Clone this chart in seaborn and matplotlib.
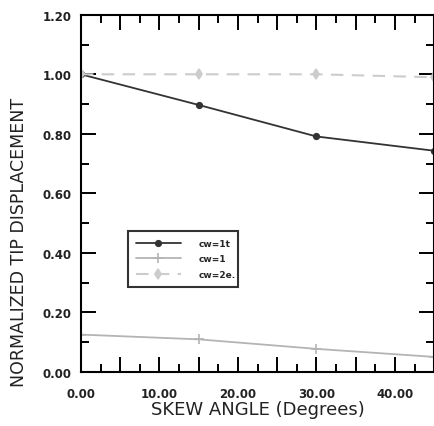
import matplotlib
matplotlib.use("Agg")
import matplotlib.pyplot as plt
import seaborn as sns
import pandas as pd
from matplotlib.ticker import MultipleLocator, FixedLocator, FixedFormatter

sns.set_theme(style="white")
plt.rcParams['font.family'] = ['DejaVu Sans']

skew_angle = [0, 15, 30, 45]
series_names = ["cw=1t", "cw=1", "cw=2e."]
disp_a = [1.00, 0.897, 0.791, 0.743]
disp_b = [0.125, 0.109, 0.077, 0.050]
disp_c = [1.00, 1.00, 1.00, 0.99]

xtick_vals = [0, 5, 10, 15, 20, 25, 30, 35, 40, 45]
xtick_labels = ["0.00", "", "10.00", "", "20.00", "", "30.00", "", "40.00", ""]
ytick_vals = [0.0, 0.2, 0.4, 0.6, 0.8, 1.0, 1.2]
ytick_labels = ["0.00", "0.20", "0.40", "0.60", "0.80", "1.00", "1.20"]

df = pd.concat([
    pd.DataFrame({"x": skew_angle, "y": disp_a, "s": series_names[0]}),
    pd.DataFrame({"x": skew_angle, "y": disp_b, "s": series_names[1]}),
    pd.DataFrame({"x": skew_angle, "y": disp_c, "s": series_names[2]}),
])

fig = plt.figure(figsize=(4.35, 4.27), dpi=100)
ax = fig.add_axes([0.186, 0.127, 0.812, 0.836])

styles = {
    series_names[0]: dict(color="#333333", marker="o", linestyle="-", markersize=4, linewidth=1.3),
    series_names[1]: dict(color="#b4b4b4", marker="+", linestyle="-", markersize=7, linewidth=1.3),
    series_names[2]: dict(color="#cccccc", marker="d", linestyle=(0, (6, 4)), markersize=5, linewidth=1.5),
}
for name in series_names:
    sub = df[df["s"] == name]
    st = styles[name]
    sns.lineplot(data=sub, x="x", y="y", ax=ax, label=name, color=st["color"],
                 marker=st["marker"], linestyle=st["linestyle"], markersize=st["markersize"],
                 linewidth=st["linewidth"], markeredgecolor=st["color"], markerfacecolor=st["color"],
                 markeredgewidth=1.2)

ax.set_xlim(0, 45)
ax.set_ylim(0, 1.2)
ax.xaxis.set_major_locator(FixedLocator(xtick_vals))
ax.xaxis.set_major_formatter(FixedFormatter(xtick_labels))
ax.xaxis.set_minor_locator(MultipleLocator(2.5))
ax.yaxis.set_major_locator(FixedLocator(ytick_vals))
ax.yaxis.set_major_formatter(FixedFormatter(ytick_labels))
ax.yaxis.set_minor_locator(MultipleLocator(0.1))

ax.tick_params(which="both", direction="in", top=True, right=True, bottom=True, left=True,
               colors="black", labelsize=8.5, width=1.4)
ax.tick_params(which="major", length=11)
ax.tick_params(axis="x", which="major", pad=11)
ax.tick_params(axis="y", which="major", pad=7)
ax.tick_params(which="minor", length=5.5)
for lab in ax.get_xticklabels() + ax.get_yticklabels():
    lab.set_fontweight("bold")
    lab.set_color("#222222")

for sp in ax.spines.values():
    sp.set_visible(True)
    sp.set_color("black")
    sp.set_linewidth(1.5)

ax.set_xlabel("SKEW ANGLE (Degrees)", fontsize=13, color="#222222", labelpad=0)
ax.set_ylabel("NORMALIZED TIP DISPLACEMENT", fontsize=12.5, color="#222222")
ax.yaxis.set_label_coords(-0.15, 0.364)

leg = ax.legend(loc="lower left", bbox_to_anchor=(0.132, 0.238, 0.313, 0.168), mode="expand",
                prop={"size": 6.5, "weight": "bold"}, frameon=True, fancybox=False,
                handlelength=5.0, handletextpad=2.0, borderpad=0.9,
                labelspacing=0.7, borderaxespad=0)
leg.get_frame().set_edgecolor("black")
leg.get_frame().set_linewidth(1.5)

fig.savefig("out.png", dpi=100)
